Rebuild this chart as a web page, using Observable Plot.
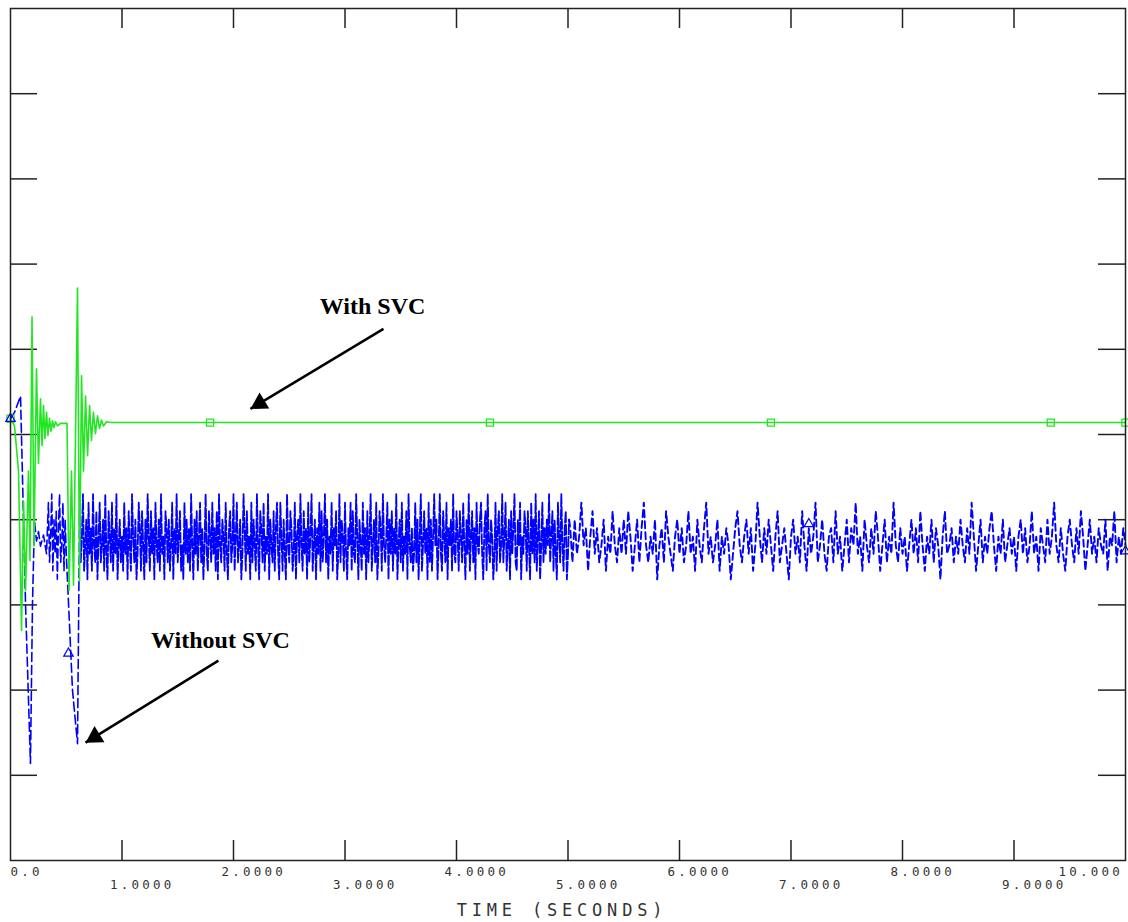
<!DOCTYPE html>
<html><head><meta charset="utf-8">
<script src="https://cdn.jsdelivr.net/npm/d3@7"></script>
<script src="https://cdn.jsdelivr.net/npm/@observablehq/plot@0.6"></script>
<style>body{margin:0;background:#fff}</style>
</head><body><div id="chart"></div>
<script>
// ---- data (y in plot units, frame spans 0..100) ----
const greenT = [0,0.036,0.072,0.099,0.117,0.135,0.161,0.175,0.193,0.211,0.233,0.251,0.269,0.283,0.296,0.309,0.323,0.336,0.350,0.363,0.377,0.390,0.404,0.422,0.448,0.507,0.525,0.547,0.565,0.601,0.619,0.637,0.655,0.673,0.691,0.709,0.726,0.744,0.762,0.780,0.798,0.816,0.834,0.861,0.897,10];
const greenY = [51.85,51.0,45.7,27.0,42.2,31.7,45.7,35.2,63.8,36.9,57.7,46.6,54.2,48.7,53.4,49.5,52.6,49.9,51.9,50.4,51.6,50.8,51.5,51.0,51.3,51.3,31.7,45.7,32.3,67.2,32.8,56.9,45.7,54.5,47.5,53.4,49.3,52.6,50.1,52.2,50.7,51.7,51.0,51.5,51.4,51.4];
const greenMarkT = [0,1.79,4.30,6.82,9.33,10];
const greenMarkY = [51.85,51.4,51.4,51.4,51.4,51.4];

const blueEarlyT = [0,0.036,0.09,0.135,0.179,0.197,0.215,0.233,0.251,0.269,0.296,0.323,0.34,0.35,0.36,0.37,0.38,0.39,0.40,0.41,0.42,0.43,0.44,0.45,0.46,0.47,0.48,0.49,0.50,0.556,0.601,0.614,0.62];
const blueEarlyY = [51.85,52.6,54.5,30,11.4,30,39.9,37.5,38.6,36.9,38.2,36.0,42,35,38,43,34,40,36,41,33,39,43,35,37,42,34,40,36,20,13.7,33,41];
const blueDenseStart = 0.62, blueDenseStep = 0.01;
const blueDense = [
41,35,38,43,34,37,40,33,42,36,39,34,43,37,35,41,33,38,42,35,
37,40,34,43,36,33,41,38,35,42,34,39,36,43,33,37,40,35,38,34,
42,36,39,33,41,37,34,43,38,35,40,33,36,42,39,34,41,37,33,40,
35,43,38,34,41,36,39,33,42,37,35,40,34,43,36,38,33,41,39,35,
40,34,37,42,33,39,36,43,35,38,41,34,37,33,42,36,40,35,39,34,
43,37,33,40,36,41,34,38,42,35,39,33,37,43,36,34,41,38,35,42,
36,39,34,41,33,43,37,35,40,38,34,42,36,33,39,41,35,37,43,34,
38,42,35,37,40,33,36,43,39,34,41,36,38,33,42,35,40,37,34,43,
37,33,41,39,35,42,34,38,36,43,33,40,37,35,41,34,39,42,36,33,
42,38,34,40,36,33,43,37,35,41,39,34,36,42,33,38,40,35,43,37,
34,41,36,39,33,42,35,38,43,34,37,40,33,39,36,42,34,41,35,38,
43,35,40,33,38,36,42,34,39,37,41,33,36,43,35,40,38,34,42,36,
33,39,37,42,34,41,36,35,43,38,33,40,37,34,42,36,39,33,41,35,
38,43,34,37,40,35,42,33,36,41,39,34,43,37,35,38,42,33,40,36,
41,34,39,36,43,33,37,40,35,42,34,38,36,41,33,43,37,35,39,34,
36,42,35,40,33,38,43,34,37,41,36,39,33,42,35,40,34,38,43,37,
40,33,37,43,36,34,41,38,35,42,33,39,37,40,34,43,36,35,41,38,
34,41,38,35,42,37,33,40,36,43,34,38,41,35,39,33,42,37,36,40,
42,36,33,39,41,34,43,37,35,40,38,33,36,42,34,39,41,35,37,43,
35,38,42,34,37,40,33,41,36,39,43,35,34,40,37,42,33,38,36,41,
39,34,41,37,33,42,36,40,35,43,34,38,41,33,37,42,35,39,36,40,
37,43,35,38,41,34,40,36,33,42,38,35,43,37,34,39,41,33,36,40];
const blueSparseStart = 5.02, blueSparseStep = 0.02;
const blueSparse = [
39,35,40,36,38,42,37,39,34,38,41,36,39,35,37,40,34,38,36,41,37,35,39,36,40,
36,41,38,34,37,40,35,39,42,37,35,38,36,40,33,37,39,35,41,38,36,34,38,40,36,
39,35,37,41,36,38,34,40,37,35,39,42,36,38,35,37,40,34,38,36,39,37,33,36,39,
41,37,35,38,40,36,39,34,37,42,38,35,39,36,40,37,34,38,41,35,37,39,36,33,38,
40,36,38,35,41,37,34,39,36,38,42,35,37,40,36,34,38,39,35,41,36,38,34,37,40,
35,39,37,42,36,38,34,40,37,35,39,36,41,38,34,37,40,35,38,36,42,37,35,39,36,
38,34,37,40,36,39,35,41,37,34,38,36,40,35,39,37,33,38,41,36,37,39,35,38,36,
40,37,35,39,36,42,38,34,37,40,35,38,36,39,41,37,34,38,36,40,35,37,39,36,38,
34,38,40,36,39,35,37,41,36,38,34,39,37,35,40,36,38,42,37,35,39,36,34,38,40,
37,35,39,36,41,38,34,37,40,36,38,35,39,37,36,40,34,38,37,41,35,38,36,39,37];
const blueMarkT = [0,0.52,7.16,10];
const blueMarkY = [51.85,24.3,39.5,36.3];

const xTickValues = [0,1,2,3,4,5,6,7,8,9,10];
const xTickLabels = ["0.0","1.0000","2.0000","3.0000","4.0000","5.0000","6.0000","7.0000","8.0000","9.0000","10.000"];
const yTickValues = [10,20,30,40,50,60,70,80,90];

const noteText = ["With SVC","Without SVC"];
const noteX = [3.247,1.883];
const noteY = [65.0,25.8];
const arrowX1 = [3.345,1.865], arrowY1 = [62.4,23.46];
const arrowX2 = [2.152,0.673], arrowY2 = [53.0,13.84];

// ---- tables ----
const green = greenT.map((t,i)=>({t, y: greenY[i]}));
const greenMarks = greenMarkT.map((t,i)=>({t, y: greenMarkY[i]}));
const blueE = blueEarlyT.map((t,i)=>({t, y: blueEarlyY[i]}));
const blueD = blueDense.map((y,i)=>({t: blueDenseStart + i*blueDenseStep, y}));
const blueS = [blueD[blueD.length-1], ...blueSparse.map((y,i)=>({t: blueSparseStart + i*blueSparseStep, y}))];
const blueMarks = blueMarkT.map((t,i)=>({t, y: blueMarkY[i]}));
const ticks = xTickValues.map((v,i)=>({v, label: xTickLabels[i], i}));
const midTicks = ticks.slice(1,-1);
const notes = noteText.map((text,i)=>({text, x: noteX[i], y: noteY[i]}));
const arrows = arrowX1.map((x1,i)=>({x1, y1: arrowY1[i], x2: arrowX2[i], y2: arrowY2[i], rot: [239,238.3][i]}));

const W = 1128, H = 922, mL = 10, mR = 3, mT = 8, mB = 62;
const iw = W - mL - mR, ih = H - mT - mB;
const tickFont = "'DejaVu Sans Mono', monospace";

const plot = Plot.plot({
  width: W, height: H,
  marginLeft: mL, marginRight: mR, marginTop: mT, marginBottom: mB,
  x: {domain: [0,10], axis: null},
  y: {domain: [0,100], axis: null},
  style: {background: "#fff"},
  marks: [
    // inward ticks
    Plot.tickX(xTickValues.slice(1,-1), {x: d=>d, insetBottom: ih-20, stroke: "#222", strokeWidth: 1.5}),
    Plot.tickX(xTickValues.slice(1,-1), {x: d=>d, insetTop: ih-20, stroke: "#222", strokeWidth: 1.5}),
    Plot.tickY(yTickValues, {y: d=>d, insetRight: iw-27, stroke: "#222", strokeWidth: 1.5}),
    Plot.tickY(yTickValues, {y: d=>d, insetLeft: iw-27, stroke: "#222", strokeWidth: 1.5}),
    // series
    Plot.line(blueE, {x: "t", y: "y", stroke: "#0000ff", strokeWidth: 1.6, strokeDasharray: "9,4"}),
    Plot.line(blueD, {x: "t", y: "y", stroke: "#0000ff", strokeWidth: 1.8, strokeDasharray: "10,2.5"}),
    Plot.line(blueS, {x: "t", y: "y", stroke: "#0000ff", strokeWidth: 1.9, strokeDasharray: "7,4"}),
    Plot.line(green, {x: "t", y: "y", stroke: "#22e622", strokeWidth: 1.6}),
    Plot.dot(greenMarks, {x: "t", y: "y", symbol: "square", r: 4, stroke: "#22e622", strokeWidth: 1.3, fill: "none"}),
    Plot.dot(blueMarks, {x: "t", y: "y", symbol: "triangle", r: 3.5, stroke: "#0000ff", strokeWidth: 1.2, fill: "none"}),
    // frame
    Plot.frame({stroke: "#222", strokeWidth: 1.5}),
    // annotations
    Plot.link(arrows, {x1: "x1", y1: "y1", x2: "x2", y2: "y2", stroke: "#000", strokeWidth: 2.5}),
    Plot.dot(arrows, {x: "x2", y: "y2", symbol: "triangle", r: 7, fill: "#000", stroke: "none", rotate: "rot", dx: 9.3, dy: -5.6}),
    Plot.text(notes, {x: "x", y: "y", text: "text", fontFamily: "'Liberation Serif', 'Times New Roman', serif", fontWeight: "bold", fontSize: 24, fill: "#000", lineAnchor: "middle"}),
    // x tick labels
    Plot.text(ticks.slice(0,1), {x: "v", text: "label", frameAnchor: "bottom", textAnchor: "start", lineAnchor: "bottom", dy: 15, fontFamily: tickFont, fontSize: 12.5, fill: "#333"}),
    Plot.text(midTicks.filter(d=>d.i%2===0), {x: "v", text: "label", frameAnchor: "bottom", textAnchor: "start", lineAnchor: "bottom", dy: 15, dx: -12, fontFamily: tickFont, fontSize: 12.5, fill: "#333"}),
    Plot.text(midTicks.filter(d=>d.i%2===1), {x: "v", text: "label", frameAnchor: "bottom", textAnchor: "start", lineAnchor: "bottom", dy: 28, dx: -12, fontFamily: tickFont, fontSize: 12.5, fill: "#333"}),
    Plot.text(ticks.slice(-1), {x: "v", text: "label", frameAnchor: "bottom", textAnchor: "start", lineAnchor: "bottom", dy: 15, dx: -67, fontFamily: tickFont, fontSize: 12.5, fill: "#333"}),
    Plot.text(["TIME (SECONDS)"], {x: 5, text: d=>d, frameAnchor: "bottom", lineAnchor: "bottom", dy: 55, dx: -6, fontFamily: tickFont, fontSize: 17, fill: "#333"})
  ]
});
plot.querySelectorAll("g, text").forEach(el => {
  const fs = el.getAttribute("font-size");
  if (fs === "12.5" || fs === "12.5px") el.style.letterSpacing = "3.2px";
  if (fs === "17" || fs === "17px") el.style.letterSpacing = "4.8px";
});
document.getElementById("chart").appendChild(plot);
</script>
</body></html>
